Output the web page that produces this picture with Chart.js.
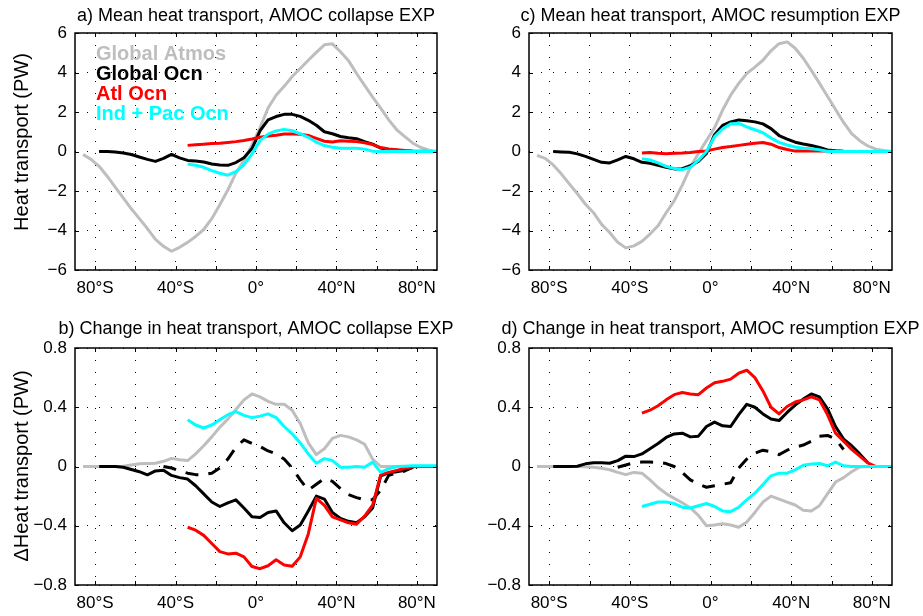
<!DOCTYPE html>
<html><head><meta charset="utf-8">
<script src="https://cdn.jsdelivr.net/npm/chart.js@4.4.1/dist/chart.umd.min.js"></script>
<style>
html,body{margin:0;padding:0;background:#fff;}
#wrap{position:relative;width:923px;height:616px;overflow:hidden;}
.p{position:absolute;}
canvas{display:block;}
</style></head><body>
<div id="wrap">
<div class="p" style="left:0;top:0;"><canvas id="ca" width="460" height="300"></canvas></div>
<div class="p" style="left:460px;top:0;"><canvas id="cc" width="463" height="300"></canvas></div>
<div class="p" style="left:0;top:300px;"><canvas id="cb" width="460" height="316"></canvas></div>
<div class="p" style="left:460px;top:300px;"><canvas id="cd" width="463" height="316"></canvas></div>
</div>
<script>
// ---------- data ----------
const lat = [-90,-86,-82,-78,-74,-70,-66,-62,-58,-54,-50,-46,-42,-38,-34,-30,-26,-22,-18,-14,-10,-6,-2,2,6,10,14,18,22,26,30,34,38,42,46,50,54,58,62,66,70,74,78,82,86,90];

const xTicks = [-80,-60,-40,-20,0,20,40,60,80];
const xTickLabels = ['80°S','','40°S','','0°','','40°N','','80°N'];
const yTicksMean = [-6,-4,-2,0,2,4,6];
const yTickLabelsMean = ['−6','−4','−2','0','2','4','6'];
const yTicksChange = [-0.8,-0.4,0,0.4,0.8];
const yTickLabelsChange = ['−0.8','−0.4','0','0.4','0.8'];

const seriesNames = ['Global Atmos','Global Ocn','Atl Ocn','Ind + Pac Ocn'];
const seriesColors = ['#bebebe','#000000','#ff0000','#00ffff'];

const N14 = [null,null,null,null,null,null,null,null,null,null,null,null,null,null];

// a) Mean heat transport, AMOC collapse EXP
const atmosMeanA = [null,-0.15,-0.4,-0.75,-1.25,-1.8,-2.35,-2.9,-3.4,-3.9,-4.45,-4.8,-5.05,-4.85,-4.6,-4.3,-3.95,-3.4,-2.7,-1.95,-1.1,-0.45,0.35,1.2,2.2,2.85,3.3,3.8,4.2,4.62,5.02,5.4,5.45,5.05,4.6,3.95,3.35,2.75,2.2,1.6,1.1,0.75,0.42,0.2,0.07,0];
const ocnMeanA = [null,null,null,0,0,-0.03,-0.08,-0.15,-0.28,-0.4,-0.5,-0.35,-0.15,-0.32,-0.45,-0.48,-0.53,-0.63,-0.68,-0.7,-0.56,-0.32,0.15,1.05,1.6,1.77,1.88,1.88,1.78,1.58,1.33,1.0,0.9,0.76,0.7,0.65,0.5,0.37,0.17,0.1,0.06,0.02,0,0,0,0];
const atlMeanA = N14.concat([0.31,0.34,0.37,0.4,0.42,0.46,0.5,0.56,0.63,0.72,0.78,0.82,0.89,0.89,0.87,0.81,0.66,0.52,0.48,0.54,0.52,0.5,0.44,0.35,0.2,0.13,0.09,0.05,0.02,0.01,0,0]);
const pacMeanA = N14.concat([-0.64,-0.7,-0.8,-0.97,-1.1,-1.2,-1.02,-0.68,-0.12,0.55,0.88,1.04,1.12,1.05,0.9,0.72,0.47,0.3,0.22,0.16,0.16,0.16,0.12,0.01,0,0,0,0,0,0,0,0]);

// c) Mean heat transport, AMOC resumption EXP
const atmosMeanC = [null,-0.2,-0.35,-0.68,-1.13,-1.64,-2.14,-2.67,-3.1,-3.69,-4.1,-4.6,-4.88,-4.78,-4.55,-4.18,-3.76,-3.1,-2.5,-1.7,-0.8,-0.1,0.55,1.2,2.1,2.85,3.45,3.95,4.27,4.62,5.1,5.46,5.55,5.23,4.72,4.11,3.46,2.8,2.13,1.47,0.9,0.55,0.28,0.12,0.05,0];
const ocnMeanC = [null,null,null,0,-0.02,-0.04,-0.12,-0.25,-0.4,-0.55,-0.58,-0.42,-0.25,-0.37,-0.55,-0.6,-0.7,-0.8,-0.88,-0.87,-0.72,-0.5,-0.1,0.85,1.32,1.5,1.6,1.56,1.5,1.4,1.16,0.81,0.63,0.47,0.38,0.3,0.2,0.08,0.04,0.01,0,0,0,0,0,0];
const atlMeanC = N14.concat([-0.08,-0.05,-0.09,-0.12,-0.09,-0.08,-0.05,0,0.03,0.12,0.2,0.25,0.31,0.37,0.42,0.46,0.37,0.2,0.1,0.02,0.02,0.02,0.02,0.02,0.01,0,0,0,0,0,0,0]);
const pacMeanC = N14.concat([-0.36,-0.43,-0.58,-0.75,-0.86,-0.92,-0.8,-0.45,0,0.75,1.15,1.4,1.42,1.25,1.1,0.95,0.68,0.46,0.33,0.23,0.16,0.14,0.09,0,0,0,0,0,0,0,0,0]);

// b) Change in heat transport, AMOC collapse EXP
const atmosChgB = [null,0,0,0,0,0,0.002,0.01,0.018,0.02,0.022,0.035,0.055,0.045,0.04,0.085,0.14,0.2,0.265,0.32,0.385,0.45,0.49,0.47,0.44,0.42,0.42,0.38,0.29,0.16,0.08,0.12,0.19,0.21,0.2,0.18,0.15,0.05,0,0,0,0,0,0,0,0];
const ocnChgB = [null,null,null,0,0,0,-0.005,-0.02,-0.035,-0.056,-0.03,-0.025,-0.06,-0.075,-0.085,-0.13,-0.185,-0.24,-0.27,-0.245,-0.225,-0.28,-0.34,-0.345,-0.31,-0.3,-0.38,-0.434,-0.395,-0.3,-0.2,-0.22,-0.31,-0.35,-0.37,-0.38,-0.34,-0.28,-0.063,-0.043,-0.035,-0.025,-0.006,null,null,null];
const atlChgB = N14.concat([-0.41,-0.43,-0.465,-0.52,-0.575,-0.59,-0.585,-0.61,-0.675,-0.69,-0.67,-0.63,-0.665,-0.674,-0.61,-0.455,-0.215,-0.263,-0.34,-0.36,-0.38,-0.39,-0.335,-0.26,-0.056,-0.04,-0.026,-0.012,-0.002,0,0,0]);
const pacChgB = N14.concat([0.315,0.28,0.26,0.28,0.315,0.35,0.37,0.345,0.33,0.34,0.355,0.33,0.27,0.22,0.16,0.085,0.022,0.053,0.04,-0.005,-0.005,0,-0.005,0.03,-0.04,-0.015,0,0.002,0.005,0.005,0.005,0.005]);
const totChgB = [null,null,null,null,null,null,null,null,null,null,null,0,-0.01,-0.03,-0.045,-0.055,-0.055,-0.045,-0.01,0.05,0.13,0.18,0.155,0.135,0.105,0.085,0.05,-0.01,-0.09,-0.16,-0.12,-0.08,-0.1,-0.15,-0.19,-0.21,-0.225,-0.225,-0.16,-0.06,-0.045,-0.03,-0.005,null,null,null];

// d) Change in heat transport, AMOC resumption EXP
const atmosChgD = [null,0,0,0,0,0,0,-0.002,-0.005,-0.012,-0.022,-0.04,-0.055,-0.04,-0.045,-0.09,-0.142,-0.183,-0.215,-0.245,-0.28,-0.33,-0.4,-0.395,-0.387,-0.395,-0.41,-0.375,-0.31,-0.24,-0.2,-0.22,-0.24,-0.26,-0.295,-0.3,-0.265,-0.185,-0.105,-0.075,-0.035,-0.003,0,0,0,0];
const ocnChgD = [null,null,null,0,0,0,0.002,0.018,0.025,0.025,0.022,0.04,0.07,0.067,0.085,0.12,0.155,0.196,0.22,0.225,0.2,0.205,0.27,0.3,0.275,0.27,0.35,0.42,0.4,0.355,0.32,0.31,0.365,0.415,0.455,0.49,0.47,0.39,0.27,0.185,0.14,0.085,0.025,null,null,null];
const atlChgD = N14.concat([0.36,0.38,0.41,0.45,0.485,0.5,0.49,0.485,0.53,0.565,0.575,0.59,0.63,0.65,0.6,0.51,0.4,0.355,0.405,0.435,0.45,0.47,0.45,0.35,0.225,0.17,0.115,0.07,0.025,0,0,0]);
const pacChgD = N14.concat([-0.27,-0.255,-0.24,-0.24,-0.25,-0.275,-0.28,-0.265,-0.25,-0.27,-0.3,-0.305,-0.275,-0.226,-0.18,-0.122,-0.063,-0.045,-0.045,-0.022,0.008,0.017,0.02,0.005,0.03,0.005,0,0,0,0,0,0]);
const totChgD = [null,null,null,null,null,null,null,null,null,null,null,-0.005,0.01,0.025,0.03,0.03,0.028,0.02,0,-0.04,-0.09,-0.12,-0.14,-0.13,-0.12,-0.11,-0.01,0.05,0.09,0.11,0.1,0.08,0.11,0.13,0.145,0.17,0.205,0.21,0.185,0.115,null,null,null,null,null,null];

// ---------- drawing ----------
const FONT = "'Liberation Sans', Arial, Helvetica, sans-serif";

function line(vals, color, order, dash) {
  return {
    data: lat.map((x, i) => ({x: x, y: vals[i]})),
    borderColor: color, backgroundColor: color,
    borderWidth: 3, pointRadius: 0, pointHoverRadius: 0,
    borderDash: dash || [], borderJoinStyle: 'round', borderCapStyle: 'butt',
    fill: false, tension: 0, spanGaps: false, order: order
  };
}

const framePlugin = {
  id: 'frame',
  afterDatasetsDraw(chart) {
    const {ctx, chartArea: a, scales} = chart;
    const x = scales.x, y = scales.y;
    const tl = 4;
    ctx.save();
    ctx.strokeStyle = '#000';
    ctx.lineWidth = 1;
    ctx.beginPath();
    x.ticks.forEach(t => {
      const px = Math.round(x.getPixelForValue(t.value)) + 0.5;
      ctx.moveTo(px, a.bottom); ctx.lineTo(px, a.bottom - tl);
      ctx.moveTo(px, a.top); ctx.lineTo(px, a.top + tl);
    });
    y.ticks.forEach(t => {
      const py = Math.round(y.getPixelForValue(t.value)) + 0.5;
      ctx.moveTo(a.left, py); ctx.lineTo(a.left + tl, py);
      ctx.moveTo(a.right, py); ctx.lineTo(a.right - tl, py);
    });
    ctx.stroke();
    ctx.lineWidth = 1.5;
    ctx.strokeRect(a.left, a.top, a.right - a.left, a.bottom - a.top);
    ctx.restore();
  },
  afterDraw(chart, args, o) {
    const {ctx, chartArea: a} = chart;
    ctx.save();
    ctx.fillStyle = '#000';
    ctx.font = '18px ' + FONT;
    ctx.textAlign = 'center';
    ctx.textBaseline = 'alphabetic';
    ctx.fillText(o.title, (a.left + a.right) / 2, o.titleY);
    if (o.yTitle) {
      ctx.save();
      ctx.translate(o.yTitleX, o.yTitleY);
      ctx.rotate(-Math.PI / 2);
      ctx.font = '20px ' + FONT;
      ctx.textAlign = 'center';
      ctx.textBaseline = 'alphabetic';
      ctx.fillText(o.yTitle, 0, 0);
      ctx.restore();
    }
    if (o.legend) {
      ctx.font = 'bold 20px ' + FONT;
      ctx.textAlign = 'left';
      ctx.textBaseline = 'alphabetic';
      seriesNames.forEach((n, i) => {
        ctx.fillStyle = seriesColors[i];
        ctx.fillText(n, a.left + 21, a.top + 27 + 20 * i);
      });
    }
    ctx.restore();
  }
};

function makeChart(id, cfg) {
  const yT = cfg.yTicks, yL = cfg.yLabels;
  const datasets = [
    line(cfg.series[0], seriesColors[0], 5),
    line(cfg.series[1], seriesColors[1], 4)
  ];
  if (cfg.total) datasets.push(line(cfg.total, '#000000', 3, [13, 10]));
  datasets.push(line(cfg.series[2], seriesColors[2], 2));
  datasets.push(line(cfg.series[3], seriesColors[3], 1));
  return new Chart(document.getElementById(id), {
    type: 'line',
    data: {datasets: datasets},
    plugins: [framePlugin],
    options: {
      responsive: false, animation: false, devicePixelRatio: 1,
      layout: {padding: {top: cfg.padTop, right: cfg.padRight, left: 0, bottom: 0}},
      events: [],
      plugins: {
        legend: {display: false}, title: {display: false}, tooltip: {enabled: false},
        frame: {title: cfg.title, titleY: cfg.titleY, yTitle: cfg.yTitle, yTitleX: 27.5, yTitleY: cfg.yTitleY, legend: cfg.legend}
      },
      scales: {
        x: {
          type: 'linear', min: -90, max: 90,
          afterBuildTicks: s => { s.ticks = xTicks.map(v => ({value: v})); },
          afterFit: s => { s.height = cfg.xHeight; },
          ticks: {
            autoSkip: false, maxRotation: 0, minRotation: 0, padding: 8,
            color: '#000', font: {family: FONT, size: 17},
            callback: (v, i) => xTickLabels[i]
          },
          grid: {color: '#000', lineWidth: 1, drawTicks: false},
          border: {display: false, dash: [1, 11]}
        },
        y: {
          type: 'linear', min: yT[0], max: yT[yT.length - 1],
          afterBuildTicks: s => { s.ticks = yT.map(v => ({value: v})); },
          afterFit: s => { s.width = cfg.yWidth; },
          ticks: {
            padding: 8, color: '#000', font: {family: FONT, size: 17},
            callback: (v, i) => yL[i]
          },
          grid: {color: '#000', lineWidth: 1, drawTicks: false},
          border: {display: false, dash: [1, 11]}
        }
      }
    }
  });
}

makeChart('ca', {
  series: [atmosMeanA, ocnMeanA, atlMeanA, pacMeanA],
  yTicks: yTicksMean, yLabels: yTickLabelsMean,
  title: 'a) Mean heat transport, AMOC collapse EXP', titleY: 21,
  yTitle: 'Heat transport (PW)', yTitleY: 142, legend: true,
  padTop: 33, padRight: 23, yWidth: 75, xHeight: 30
});
makeChart('cc', {
  series: [atmosMeanC, ocnMeanC, atlMeanC, pacMeanC],
  yTicks: yTicksMean, yLabels: yTickLabelsMean,
  title: 'c) Mean heat transport, AMOC resumption EXP', titleY: 21,
  yTitle: null, legend: false,
  padTop: 33, padRight: 31, yWidth: 69, xHeight: 30
});
makeChart('cb', {
  series: [atmosChgB, ocnChgB, atlChgB, pacChgB], total: totChgB,
  yTicks: yTicksChange, yLabels: yTickLabelsChange,
  title: 'b) Change in heat transport, AMOC collapse EXP', titleY: 34,
  yTitle: 'ΔHeat transport (PW)', yTitleY: 166, legend: false,
  padTop: 48, padRight: 23, yWidth: 75, xHeight: 31
});
makeChart('cd', {
  series: [atmosChgD, ocnChgD, atlChgD, pacChgD], total: totChgD,
  yTicks: yTicksChange, yLabels: yTickLabelsChange,
  title: 'd) Change in heat transport, AMOC resumption EXP', titleY: 34,
  yTitle: null, legend: false,
  padTop: 48, padRight: 31, yWidth: 69, xHeight: 31
});
</script>
</body></html>
